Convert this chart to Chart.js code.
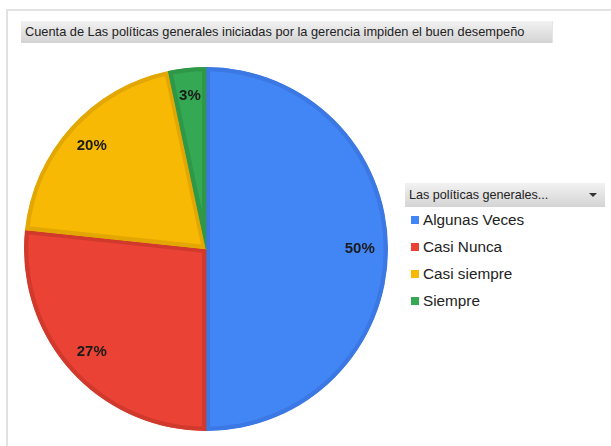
<!DOCTYPE html>
<html>
<head>
<meta charset="utf-8">
<script src="https://cdn.jsdelivr.net/npm/chart.js@4/dist/chart.umd.min.js"></script>
<style>
    body { margin: 0; background: #fff; width: 611px; height: 446px; overflow: hidden; position: relative; }
    .frame { position: absolute; left: 6px; top: 9px; width: 700px; height: 500px; border-left: 2px solid #e2e2e2; border-top: 2px solid #e2e2e2; }
    .title { position: absolute; left: 21px; top: 21px; width: 532px; height: 22px; box-sizing: border-box;
        background: linear-gradient(#f2f2f2, #d3d3d3); border-right: 1px solid #e4e4e4;
        font: 12.8px "Liberation Sans", Arial, sans-serif; color: #222; line-height: 22px; padding-left: 4px; white-space: nowrap; }
    .legend-head { position: absolute; left: 405px; top: 183px; width: 200px; height: 24px; box-sizing: border-box;
        background: linear-gradient(#f2f2f2, #d4d4d4);
        font: 12.6px "Liberation Sans", Arial, sans-serif; color: #222; line-height: 24px; padding-left: 4px; white-space: nowrap; }
    .legend-head .arrow { position: absolute; right: 8px; top: 10px; width: 0; height: 0;
        border-left: 4px solid transparent; border-right: 4px solid transparent; border-top: 4px solid #333; }
    .legend-item { position: absolute; left: 411px; height: 20px; line-height: 20px;
        font: 15.3px "Liberation Sans", Arial, sans-serif; color: #222; white-space: nowrap; }
    .legend-item span { display: inline-block; width: 8px; height: 8px; margin-right: 4px; vertical-align: 1px; }
    #pie { position: absolute; left: 24px; top: 67px; }
</style>
</head>
<body>
<div class="frame"></div>
<div class="title">Cuenta de Las políticas generales iniciadas por la gerencia impiden el buen desempeño</div>
<div class="legend-head">Las políticas generales...<div class="arrow"></div></div>
<div id="legend"></div>
<canvas id="pie" width="364" height="364"></canvas>
<script>
const categories = ['Algunas Veces', 'Casi Nunca', 'Casi siempre', 'Siempre'];
const counts = [15, 8, 6, 1];
const fillColors = ['#4285f4', '#ea4335', '#f7b903', '#34a853'];
const edgeColors = ['#3b78e4', '#d2392d', '#e2a702', '#2e9748'];

// legend built from the same arrays
const legendEl = document.getElementById('legend');
categories.forEach(function(name, i) {
    const item = document.createElement('div');
    item.className = 'legend-item';
    item.style.top = (211 + i * 27) + 'px';
    item.innerHTML = '<span style="background:' + fillColors[i] + '"></span>' + name;
    legendEl.appendChild(item);
});

// percentage labels placed on each arc
const pctLabels = {
    id: 'pctLabels',
    afterDatasetsDraw(chart) {
        const c = chart.ctx;
        const meta = chart.getDatasetMeta(0);
        const total = counts.reduce((a, b) => a + b, 0);
        c.save();
        c.font = 'bold 15px "Liberation Sans", Arial, sans-serif';
        c.fillStyle = '#1b1b1b';
        c.textAlign = 'center';
        c.textBaseline = 'middle';
        meta.data.forEach(function(arc, i) {
            const p = arc.getProps(['x', 'y', 'startAngle', 'endAngle', 'outerRadius'], true);
            const mid = (p.startAngle + p.endAngle) / 2;
            const r = p.outerRadius * 0.845;
            const txt = Math.round(counts[i] / total * 100) + '%';
            c.fillText(txt, p.x + Math.cos(mid) * r, p.y + Math.sin(mid) * r);
        });
        c.restore();
    }
};

new Chart(document.getElementById('pie').getContext('2d'), {
    type: 'pie',
    data: {
        labels: categories,
        datasets: [{
            data: counts,
            backgroundColor: fillColors,
            borderColor: edgeColors,
            borderWidth: 4,
            borderAlign: 'inner'
        }]
    },
    options: {
        responsive: false,
        animation: false,
        layout: { padding: 0 },
        plugins: {
            legend: { display: false },
            tooltip: { enabled: false }
        }
    },
    plugins: [pctLabels]
});
</script>
</body>
</html>
